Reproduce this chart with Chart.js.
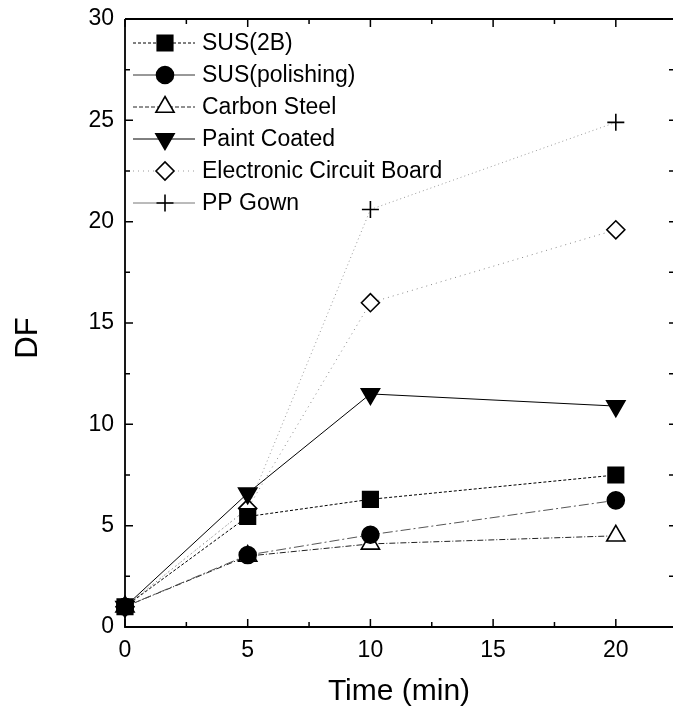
<!DOCTYPE html>
<html><head><meta charset="utf-8">
<script src="https://cdn.jsdelivr.net/npm/chart.js@4/dist/chart.umd.min.js"></script>
<style>html,body{margin:0;padding:0;background:#fff;}#wrap{width:673px;height:713px;}</style>
</head><body><div id="wrap"><canvas id="c" width="673" height="713"></canvas></div>
<script>
// ---- data ----
const times = [0, 5, 10, 20];
const seriesNames = ['SUS(2B)', 'SUS(polishing)', 'Carbon Steel', 'Paint Coated', 'Electronic Circuit Board', 'PP Gown'];
const sus2b = [1, 5.45, 6.3, 7.5];
const susPolishing = [1, 3.55, 4.55, 6.25];
const carbonSteel = [1, 3.5, 4.1, 4.5];
const paintCoated = [1, 6.6, 11.5, 10.9];
const circuitBoard = [1, 5.85, 16.0, 19.6];
const ppGown = [1, 5.85, 20.6, 24.9];
const xTickValues = [0, 5, 10, 15, 20];
const yTickValues = [0, 5, 10, 15, 20, 25, 30];
const xTitle = 'Time (min)';
const yTitle = 'DF';

// ---- styles ----
const FONT = "'Liberation Sans', Arial, sans-serif";
const styles = [
  {color:'#000', dash:[3,2], width:1, point:'rect', r:11, rot:0, fill:'#000', legColor:'#000', legDash:[3,2]},
  {color:'#555', dash:[10,3,2,3], width:1, point:'circle', r:8.5, rot:0, fill:'#000', legColor:'#333', legDash:[]},
  {color:'#222', dash:[6,2,1,2], width:1, point:'triangle', r:10.5, rot:0, fill:'#fff', legColor:'#222', legDash:[4,2]},
  {color:'#000', dash:[], width:1, point:'triangle', r:10.5, rot:180, fill:'#000', legColor:'#000', legDash:[]},
  {color:'#888', dash:[1,4], width:1, point:'rectRot', r:9, rot:0, fill:'#fff', legColor:'#999', legDash:[1,4]},
  {color:'#999', dash:[1,3], width:1, point:'cross', r:8.5, rot:0, fill:'#fff', legColor:'#777', legDash:[]}
];
const seriesValues = [sus2b, susPolishing, carbonSteel, paintCoated, circuitBoard, ppGown];

const datasets = seriesValues.map((vals, i) => ({
  label: seriesNames[i],
  data: times.map((t, j) => ({x: t, y: vals[j]})),
  borderColor: styles[i].color,
  borderDash: styles[i].dash,
  borderWidth: styles[i].width,
  pointStyle: styles[i].point,
  pointRadius: styles[i].r,
  pointHoverRadius: styles[i].r,
  pointRotation: styles[i].rot,
  pointBackgroundColor: styles[i].fill,
  pointBorderColor: '#000',
  pointBorderWidth: 1.6,
  tension: 0,
  fill: false,
  clip: false
}));

function drawMarker(ctx, s, x, y) {
  ctx.save();
  ctx.setLineDash([]);
  ctx.fillStyle = s.fill;
  ctx.strokeStyle = '#000';
  ctx.lineWidth = 1.6;
  if (Chart.helpers && Chart.helpers.drawPoint) {
    Chart.helpers.drawPoint(ctx, {pointStyle: s.point, radius: s.r, rotation: s.rot, borderWidth: 1.6}, x, y);
  }
  ctx.restore();
}

const framePlugin = {
  id: 'frame',
  beforeDatasetsDraw(chart) {
    const ctx = chart.ctx, ca = chart.chartArea;
    const xs = chart.scales.x, ys = chart.scales.y;
    ctx.save();
    ctx.strokeStyle = '#000';
    ctx.lineWidth = 1.8;
    ctx.beginPath();
    ctx.moveTo(ca.left, ca.top); ctx.lineTo(ca.left, ca.bottom); ctx.lineTo(ca.right, ca.bottom);
    ctx.moveTo(ca.left, ca.top); ctx.lineTo(ca.right, ca.top);
    ctx.stroke();
    ctx.lineWidth = 1.5;
    ctx.beginPath();
    for (let v = 0; v <= xs.max; v += 2.5) {
      const major = xTickValues.includes(v);
      const len = major ? 8 : 5;
      const px = xs.getPixelForValue(v);
      ctx.moveTo(px, ca.bottom); ctx.lineTo(px, ca.bottom - len);
      ctx.moveTo(px, ca.top); ctx.lineTo(px, ca.top + len);
    }
    for (let v = 0; v <= ys.max; v += 2.5) {
      const major = yTickValues.includes(v);
      const len = major ? 8 : 5;
      const py = ys.getPixelForValue(v);
      ctx.moveTo(ca.left, py); ctx.lineTo(ca.left + len, py);
      ctx.moveTo(ca.right, py); ctx.lineTo(ca.right - Math.min(len, 4), py);
    }
    ctx.stroke();
    ctx.restore();
  },
  afterDraw(chart) {
    const ctx = chart.ctx, ca = chart.chartArea;
    ctx.save();
    const x0 = ca.left + 8, xm = ca.left + 40, x1 = ca.left + 70, xt = ca.left + 77;
    const y0 = 43, dy = 32;
    chart.data.datasets.forEach((ds, i) => {
      const s = styles[i];
      const y = y0 + i * dy;
      ctx.save();
      ctx.strokeStyle = s.legColor;
      ctx.lineWidth = s.width;
      ctx.setLineDash(s.legDash);
      ctx.beginPath();
      ctx.moveTo(x0, y); ctx.lineTo(x1, y);
      ctx.stroke();
      ctx.restore();
      drawMarker(ctx, s, xm, y);
      ctx.fillStyle = '#000';
      ctx.font = '23px ' + FONT;
      ctx.textAlign = 'left';
      ctx.textBaseline = 'middle';
      ctx.fillText(ds.label, xt, y + 1);
    });
    ctx.translate(28, 338);
    ctx.rotate(-Math.PI / 2);
    ctx.font = '31px ' + FONT;
    ctx.textAlign = 'center';
    ctx.textBaseline = 'middle';
    ctx.fillStyle = '#000';
    ctx.fillText(yTitle, 0, 0);
    ctx.restore();
  }
};

new Chart(document.getElementById('c'), {
  type: 'line',
  data: {datasets},
  options: {
    responsive: false,
    animation: false,
    devicePixelRatio: 1,
    layout: {autoPadding: false, padding: {top: 19, right: 0, left: 0, bottom: 0}},
    plugins: {legend: {display: false}, tooltip: {enabled: false}},
    scales: {
      x: {
        type: 'linear', min: 0, max: 22.33,
        afterFit: s => { s.height = 86; s.paddingRight = 0; s.paddingLeft = 0; },
        grid: {display: false, drawTicks: false},
        border: {display: false},
        ticks: {stepSize: 5, includeBounds: false, padding: 10, color: '#000', font: {family: FONT, size: 23},
                callback: v => xTickValues.includes(v) ? String(v) : ''},
        title: {display: true, text: xTitle, color: '#000', font: {family: FONT, size: 30}, padding: {top: 0, bottom: 3}}
      },
      y: {
        type: 'linear', min: 0, max: 30,
        afterFit: s => { s.width = 125; s.paddingTop = 0; s.paddingBottom = 0; },
        grid: {display: false, drawTicks: false},
        border: {display: false},
        ticks: {stepSize: 5, padding: 11, color: '#000', font: {family: FONT, size: 23},
                callback: v => yTickValues.includes(v) ? String(v) : ''}
      }
    }
  },
  plugins: [framePlugin]
});
</script></body></html>
